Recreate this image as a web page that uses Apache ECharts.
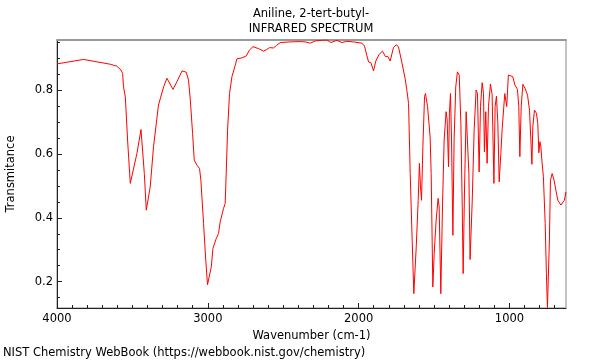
<!DOCTYPE html>
<html>
<head>
<meta charset="utf-8">
<script src="https://cdn.jsdelivr.net/npm/echarts@6/dist/echarts.min.js"></script>
<style>
html,body{margin:0;padding:0;background:#fff;}
#chart{width:600px;height:360px;}
</style>
</head>
<body>
<div id="chart"></div>
<script>
const titleLines = ["Aniline, 2-tert-butyl-", "INFRARED SPECTRUM"];
const xName = "Wavenumber (cm-1)";
const yName = "Transmitance";
const footer = "NIST Chemistry WebBook (https://webbook.nist.gov/chemistry)";
const xMajorTicks = [1000, 2000, 3000, 4000];
const xMinorTicks = [700, 800, 900, 1100, 1200, 1300, 1400, 1500, 1600, 1700, 1800, 1900, 2100, 2200, 2300, 2400, 2500, 2600, 2700, 2800, 2900, 3100, 3200, 3300, 3400, 3500, 3600, 3700, 3800, 3900];
const yMajorTicks = [0.2, 0.4, 0.6, 0.8];
const yMinorTicks = [0.15, 0.25, 0.3, 0.35, 0.45, 0.5, 0.55, 0.65, 0.7, 0.75, 0.85, 0.9, 0.95];

const wavenumbers = [
 4000, 3824, 3647, 3604, 3576, 3565, 3559, 3547, 3532, 3514, 3508, 3470, 3443, 3435, 3421, 3408, 3397, 3382, 3360, 3327,
 3293, 3271, 3260, 3231, 3205, 3171, 3143, 3128, 3116, 3101, 3090, 3072, 3055, 3046, 3028, 3015, 3002, 2991, 2977, 2966,
 2944, 2929, 2918, 2896, 2885, 2878, 2869, 2856, 2840, 2818, 2807, 2774, 2745, 2723, 2701, 2664, 2631, 2613, 2591, 2564,
 2542, 2520, 2454, 2387, 2354, 2321, 2288, 2244, 2210, 2184, 2144, 2111, 2078, 2034, 1978, 1961, 1945, 1934, 1919, 1901,
 1886, 1864, 1842, 1822, 1806, 1791, 1769, 1751, 1736, 1713, 1691, 1680, 1669, 1658, 1645, 1634, 1618, 1605, 1597, 1590,
 1583, 1574, 1563, 1557, 1543, 1526, 1519, 1508, 1499, 1486, 1473, 1466, 1455, 1444, 1433, 1420, 1413, 1404, 1398, 1391,
 1384, 1375, 1367, 1356, 1345, 1333, 1322, 1313, 1307, 1298, 1287, 1278, 1269, 1261, 1247, 1234, 1221, 1212, 1201, 1192,
 1181, 1172, 1166, 1157, 1148, 1139, 1126, 1115, 1103, 1095, 1086, 1077, 1068, 1057, 1048, 1042, 1031, 1025, 1018, 1007,
 995, 978, 964, 947, 938, 931, 922, 911, 896, 880, 867, 858, 851, 845, 834, 821, 812, 805, 798, 792,
 785, 775, 763, 755, 748, 741, 735, 728, 717, 704, 690, 679, 671, 659, 649, 636, 625
];
const transmittance = [
 0.883, 0.897, 0.882, 0.876, 0.864, 0.853, 0.811, 0.780, 0.644, 0.508, 0.506, 0.602, 0.677, 0.675, 0.539, 0.424, 0.422, 0.497, 0.623, 0.754,
 0.811, 0.838, 0.836, 0.803, 0.827, 0.861, 0.857, 0.832, 0.770, 0.665, 0.581, 0.565, 0.555, 0.518, 0.382, 0.277, 0.190, 0.190, 0.246, 0.304,
 0.335, 0.351, 0.387, 0.429, 0.445, 0.539, 0.675, 0.790, 0.843, 0.879, 0.899, 0.902, 0.908, 0.927, 0.937, 0.931, 0.923, 0.927, 0.934, 0.933,
 0.942, 0.950, 0.952, 0.953, 0.952, 0.948, 0.955, 0.957, 0.958, 0.950, 0.957, 0.950, 0.954, 0.952, 0.948, 0.939, 0.908, 0.889, 0.887, 0.861,
 0.892, 0.913, 0.923, 0.906, 0.906, 0.892, 0.934, 0.943, 0.937, 0.887, 0.835, 0.800, 0.759, 0.539, 0.330, 0.162, 0.309, 0.455, 0.571, 0.500,
 0.455, 0.623, 0.780, 0.790, 0.749, 0.654, 0.539, 0.183, 0.288, 0.393, 0.461, 0.434, 0.162, 0.434, 0.644, 0.733, 0.707, 0.560, 0.728, 0.790,
 0.644, 0.345, 0.644, 0.811, 0.858, 0.848, 0.696, 0.434, 0.225, 0.487, 0.733, 0.728, 0.539, 0.269, 0.450, 0.675, 0.801, 0.790, 0.544, 0.749,
 0.824, 0.790, 0.607, 0.733, 0.571, 0.749, 0.820, 0.787, 0.508, 0.749, 0.782, 0.696, 0.513, 0.602, 0.681, 0.675, 0.790, 0.790, 0.749, 0.848,
 0.850, 0.843, 0.817, 0.803, 0.749, 0.592, 0.749, 0.819, 0.806, 0.785, 0.738, 0.644, 0.568, 0.686, 0.738, 0.728, 0.696, 0.604, 0.639, 0.625,
 0.581, 0.529, 0.382, 0.225, 0.118, 0.118, 0.330, 0.518, 0.539, 0.518, 0.481, 0.455, 0.455, 0.440, 0.440, 0.455, 0.481
];

const FONT = "DejaVu Sans";
const FS = 11.5;
const X_MIN = 625, X_MAX = 4000, Y_MIN = 0.117, Y_MAX = 0.958;
const seriesData = wavenumbers.map((w, i) => [w, transmittance[i]]);

const chart = echarts.init(document.getElementById('chart'), null, {renderer: 'canvas'});
chart.setOption({
  animation: false,
  backgroundColor: '#ffffff',
  title: [
    {text: titleLines.join('\n'), left: 311, top: 6, textAlign: 'center', padding: 0,
     textStyle: {fontFamily: FONT, fontSize: FS, fontWeight: 'normal', color: '#000', lineHeight: 15.6}},
    {text: footer, left: 3, top: 346, padding: 0,
     textStyle: {fontFamily: FONT, fontSize: FS, fontWeight: 'normal', color: '#000', lineHeight: 14}}
  ],
  grid: {left: 57, right: 34, top: 40, bottom: 52, show: true, borderColor: '#888', borderWidth: 1,
         containLabel: false, outerBoundsMode: 'none'},
  xAxis: [
    {type: 'value', min: X_MIN, max: X_MAX, inverse: true, position: 'bottom',
     name: xName, nameLocation: 'middle', nameGap: 16,
     nameTextStyle: {fontFamily: FONT, fontSize: FS, color: '#000'},
     axisLine: {show: true, onZero: false, lineStyle: {color: '#222', width: 1}},
     axisTick: {show: true, inside: true, length: 5, customValues: xMajorTicks, lineStyle: {color: '#222'}},
     axisLabel: {show: true, customValues: xMajorTicks, margin: 5, fontFamily: FONT, fontSize: FS, color: '#000',
                 formatter: v => String(v)},
     splitLine: {show: false}},
    {type: 'value', min: X_MIN, max: X_MAX, inverse: true, position: 'bottom',
     axisLine: {show: false, onZero: false},
     axisTick: {show: true, inside: true, length: 3, customValues: xMinorTicks, lineStyle: {color: '#222'}},
     axisLabel: {show: false}, splitLine: {show: false}},
    {type: 'value', min: X_MIN, max: X_MAX, inverse: true, position: 'top',
     axisLine: {show: true, onZero: false, lineStyle: {color: '#999', width: 2}},
     axisTick: {show: false}, axisLabel: {show: false}, splitLine: {show: false}}
  ],
  yAxis: [
    {type: 'value', min: Y_MIN, max: Y_MAX, position: 'left',
     name: yName, nameLocation: 'middle', nameGap: 40, nameRotate: 90,
     nameTextStyle: {fontFamily: FONT, fontSize: FS, color: '#000'},
     axisLine: {show: true, onZero: false, lineStyle: {color: '#222', width: 1}},
     axisTick: {show: true, inside: true, length: 5, customValues: yMajorTicks, lineStyle: {color: '#222'}},
     axisLabel: {show: true, customValues: yMajorTicks, margin: 4, fontFamily: FONT, fontSize: FS, color: '#000',
                 formatter: v => v.toFixed(1)},
     splitLine: {show: false}},
    {type: 'value', min: Y_MIN, max: Y_MAX, position: 'left',
     axisLine: {show: false, onZero: false},
     axisTick: {show: true, inside: true, length: 3, customValues: yMinorTicks, lineStyle: {color: '#222'}},
     axisLabel: {show: false}, splitLine: {show: false}}
  ],
  series: [{
    type: 'line', xAxisIndex: 0, yAxisIndex: 0, data: seriesData,
    showSymbol: false, symbol: 'none', clip: true,
    lineStyle: {color: '#ff0000', width: 1},
    emphasis: {disabled: true}
  }]
});
</script>
</body>
</html>
